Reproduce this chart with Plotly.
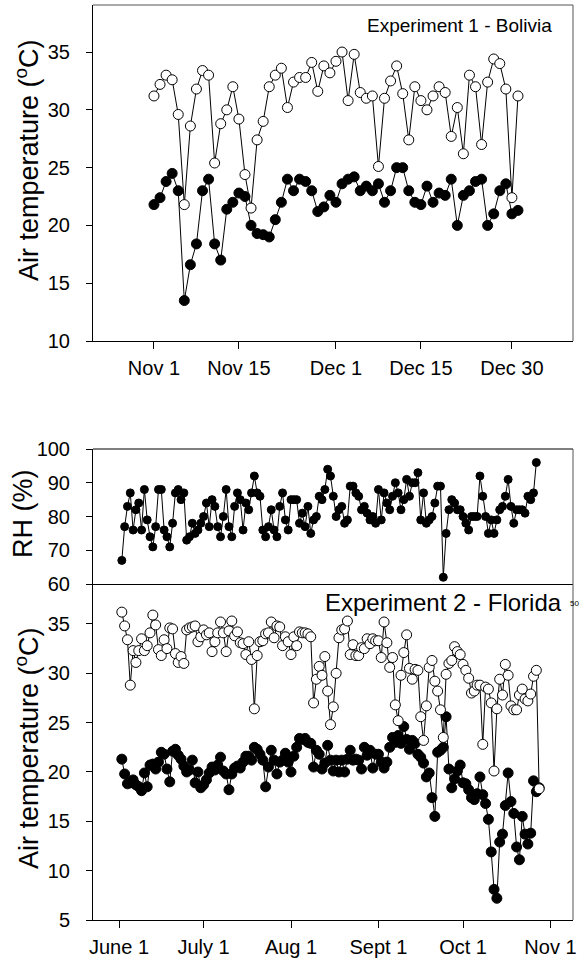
import plotly.graph_objects as go
import pandas as pd

# ---------------- data: Experiment 1 - Bolivia (daily, from Nov 1) ----------------
bol_start = "2008-11-01"
bol_tmax = [31.2, 32.2, 33.0, 32.6, 29.6, 21.8, 28.6, 31.8, 33.4, 33.0,
            25.4, 28.8, 30.0, 32.0, 29.2, 24.4, 21.5, 27.4, 29.0, 32.0,
            33.0, 33.6, 30.2, 32.4, 32.8, 32.8, 34.1, 31.6, 33.8, 33.2,
            34.2, 35.0, 30.8, 34.8, 31.5, 31.0, 31.2, 25.1, 31.0, 32.5,
            33.8, 31.4, 27.4, 32.0, 30.8, 30.0, 31.2, 32.0, 31.5, 27.7,
            30.2, 26.2, 33.0, 32.0, 27.0, 32.4, 34.4, 34.0, 31.8, 22.4,
            31.2]
bol_tmin = [21.8, 22.4, 23.8, 24.5, 23.0, 13.5, 16.6, 18.4, 23.0, 24.0,
            18.4, 17.0, 21.4, 22.0, 22.8, 22.5, 20.0, 19.3, 19.2, 19.0,
            20.5, 22.0, 24.0, 23.0, 24.0, 23.8, 23.0, 21.2, 21.6, 22.6,
            22.0, 23.6, 24.0, 24.2, 23.0, 23.4, 23.0, 23.6, 22.0, 23.0,
            25.0, 25.0, 23.0, 22.0, 21.8, 23.4, 22.0, 22.8, 22.6, 24.0,
            20.0, 22.6, 23.0, 23.8, 24.0, 20.0, 21.0, 23.0, 23.6, 21.0,
            21.3]
bol_tickvals = ["2008-11-01", "2008-11-15", "2008-12-01", "2008-12-15", "2008-12-30"]
bol_ticktext = ["Nov 1", "Nov 15", "Dec 1", "Dec 15", "Dec 30"]

# ---------------- data: Experiment 2 - Florida (daily, from June 2) ----------------
fl_start = "2009-06-02"
fl_rh = [67, 77, 83, 87, 76, 82, 84, 76, 88, 79,
         74, 71, 77, 88, 88, 76, 74, 71, 78, 87,
         88, 85, 87, 73, 74, 78, 75, 76, 78, 80,
         84, 77, 85, 83, 77, 74, 80, 88, 77, 74,
         83, 87, 85, 76, 84, 82, 87, 92, 87, 86,
         76, 74, 77, 82, 76, 74, 83, 87, 79, 76,
         85, 85, 85, 78, 81, 77, 83, 75, 79, 80,
         86, 85, 88, 94, 92, 86, 80, 82, 83, 78,
         79, 89, 89, 87, 86, 82, 83, 81, 79, 80,
         78, 88, 79, 87, 84, 82, 86, 90, 87, 82,
         85, 91, 86, 90, 90, 93, 79, 87, 78, 79,
         80, 84, 89, 89, 62, 75, 82, 85, 84, 82,
         82, 80, 78, 76, 80, 80, 80, 92, 86, 80,
         75, 79, 75, 79, 82, 83, 86, 91, 83, 78,
         82, 82, 82, 81, 86, 85, 87, 96]
fl_tmax = [36.2, 34.8, 33.4, 28.8, 32.3, 31.1, 32.3, 33.5, 32.3, 32.8,
           34.1, 35.9, 34.9, 32.4, 31.8, 33.4, 32.5, 34.6, 34.5, 32.0,
           31.1, 31.7, 31.0, 34.4, 34.6, 34.7, 34.8, 33.2, 33.7, 34.4,
           33.9, 34.1, 32.2, 33.2, 34.1, 35.2, 34.1, 32.2, 34.3, 35.3,
           33.8, 34.2, 33.1, 33.0, 31.9, 33.2, 31.4, 26.4, 31.8, 33.2,
           33.3, 34.0, 34.1, 35.2, 33.6, 34.8, 34.7, 32.8, 33.7, 33.2,
           31.9, 33.7, 32.8, 34.2,
           34.1, 34.1, 34.0, 33.7, 27.0, 29.4, 30.7, 29.8, 31.7, 28.2,
           24.8, 26.6, 30.0, 33.6, 34.4, 34.5, 35.3, 31.9, 32.9, 31.8,
           31.8, 32.6, 32.5, 33.5, 33.0, 33.5, 33.3, 33.3, 31.6, 35.2,
           33.1, 30.6, 31.6, 26.8, 25.2, 29.8, 32.1, 33.9, 30.5, 29.4,
           30.4, 30.3, 25.6, 23.2, 26.7, 30.6, 31.3, 29.2, 28.2, 26.3,
           23.5, 29.9, 31.0, 31.3, 32.7, 32.2, 31.9, 30.9, 30.3, 29.5,
           28.0, 28.2, 28.8, 28.8, 22.8, 28.6, 28.4, 27.0, 20.1, 26.4,
           29.4, 27.8, 30.9, 29.8, 26.7, 26.3, 26.3, 27.8, 28.4, 27.4,
           27.2, 27.9, 29.7, 30.3, 18.3]
fl_tmin = [21.3, 19.8, 18.8, 18.9, 19.2, 18.7, 18.5, 18.1, 19.9, 18.5,
           20.7, 20.8, 20.3, 21.0, 22.0, 21.8, 20.3, 19.0, 22.1, 22.3,
           21.7, 21.3, 20.6, 20.0, 20.2, 21.2, 18.9, 20.0, 18.4, 18.7,
           19.2, 19.9, 20.5, 20.2, 20.7, 21.5, 20.1, 19.8, 18.2, 19.8,
           20.4, 20.6, 20.4, 21.0, 21.6, 21.6, 21.2, 22.5, 22.3, 21.8,
           21.2, 18.5, 20.5, 22.2, 21.2, 19.8, 21.0, 21.2, 21.9, 21.0,
           20.0, 21.6, 22.5, 23.4,
           23.3, 23.4, 23.0, 22.9, 20.5, 22.2, 21.8, 20.3, 20.9, 22.7,
           21.2, 20.1, 21.2, 20.0, 21.2, 20.0, 21.3, 22.2, 21.2, 21.3,
           21.2, 20.3, 22.5, 21.7, 22.2, 20.4, 21.8, 21.8, 21.0, 20.4,
           21.0, 22.5, 23.5, 23.0, 23.7, 22.9, 24.6, 23.3, 22.3, 23.2,
           22.9, 21.8, 21.5, 20.9, 19.5, 19.9, 17.4, 15.5,
           22.0, 22.2, 22.5, 25.6, 20.3, 18.4, 19.3, 20.1, 20.7, 18.9,
           18.8, 18.2, 17.4, 17.2, 17.8, 19.5, 17.7, 16.8,
           15.2, 11.9, 8.1, 7.2, 12.9, 13.7, 16.6, 19.9, 17.0, 15.8,
           12.4, 11.1, 15.5, 13.7, 12.7, 13.8, 19.1, 18.0, 18.4]
fl_tickvals = ["2009-06-01", "2009-07-01", "2009-08-01", "2009-09-01", "2009-10-01", "2009-11-01"]
fl_ticktext = ["June 1", "July 1", "Aug 1", "Sept 1", "Oct 1", "Nov 1"]

# ---------------- build ----------------
W, H = 582, 961
FONT = "Liberation Sans, Arial, sans-serif"

bol_dates = pd.date_range(bol_start, periods=len(bol_tmax), freq="D")
fl_dates_t = pd.date_range(fl_start, periods=len(fl_tmax), freq="D")
fl_dates_n = pd.date_range(fl_start, periods=len(fl_tmin), freq="D")
fl_dates_rh = pd.date_range(fl_start, periods=len(fl_rh), freq="D")


def filled(x, y, xa, ya, size=10):
    return go.Scatter(x=x, y=y, xaxis=xa, yaxis=ya, mode="lines+markers",
                      line=dict(color="black", width=1),
                      marker=dict(symbol="circle", size=size, color="black",
                                  line=dict(color="black", width=1)),
                      hoverinfo="x+y")


def opened(x, y, xa, ya, size=10):
    return go.Scatter(x=x, y=y, xaxis=xa, yaxis=ya, mode="lines+markers",
                      line=dict(color="black", width=1),
                      marker=dict(symbol="circle", size=size, color="white",
                                  line=dict(color="black", width=1)),
                      hoverinfo="x+y")


fig = go.Figure()
fig.add_trace(filled(bol_dates, bol_tmin, "x", "y"))
fig.add_trace(opened(bol_dates, bol_tmax, "x", "y"))
fig.add_trace(filled(fl_dates_rh, fl_rh, "x2", "y2", size=8))
fig.add_trace(filled(fl_dates_n, fl_tmin, "x3", "y3"))
fig.add_trace(opened(fl_dates_t, fl_tmax, "x3", "y3"))


def px_x(p):
    return p / W


def px_y(p):
    return 1 - p / H


xdom = [px_x(93), px_x(573)]

bol_range = [pd.Timestamp("2008-11-01") - pd.Timedelta(days=10.05),
             pd.Timestamp("2008-12-31") + pd.Timedelta(days=9.07)]
fl_range = [pd.Timestamp("2009-06-01") - pd.Timedelta(days=9.22),
            pd.Timestamp("2009-06-01") + pd.Timedelta(days=161.0)]

xtickfont = dict(family=FONT, size=20, color="black")
ytickfont = dict(family=FONT, size=20, color="black")
common_x = dict(type="date", showgrid=False, zeroline=False, showline=True,
                linecolor="black", linewidth=1, ticks="outside", ticklen=7,
                tickcolor="black", tickfont=xtickfont, ticklabelstandoff=2,
                automargin=False, fixedrange=True)
common_y = dict(showgrid=False, zeroline=False, showline=True, linecolor="black",
                linewidth=1, ticks="outside", ticklen=6, tickcolor="black",
                tickfont=ytickfont, ticklabelstandoff=12, automargin=False,
                fixedrange=True)

fig.update_layout(
    template="none",
    width=W, height=H, margin=dict(l=0, r=0, t=0, b=0, pad=0, autoexpand=False),
    paper_bgcolor="white", plot_bgcolor="white", showlegend=False,
    font=dict(family=FONT, color="black"),
    xaxis=dict(common_x, domain=xdom, anchor="y",
               range=[d.strftime("%Y-%m-%d %H:%M") for d in bol_range],
               tickvals=bol_tickvals, ticktext=bol_ticktext),
    yaxis=dict(common_y, domain=[px_y(341), px_y(5)], anchor="x",
               range=[10, 39.07], tickvals=[10, 15, 20, 25, 30, 35]),
    xaxis2=dict(common_x, domain=xdom, anchor="y2",
                range=[d.strftime("%Y-%m-%d %H:%M") for d in fl_range],
                ticks="", showticklabels=False, tickvals=fl_tickvals),
    yaxis2=dict(common_y, domain=[px_y(584), px_y(449)], anchor="x2",
                range=[60, 100], tickvals=[60, 70, 80, 90, 100]),
    xaxis3=dict(common_x, domain=xdom, anchor="y3",
                range=[d.strftime("%Y-%m-%d %H:%M") for d in fl_range],
                tickvals=fl_tickvals, ticktext=fl_ticktext),
    yaxis3=dict(common_y, domain=[px_y(920), px_y(584)], anchor="x3",
                range=[5, 39.05], tickvals=[5, 10, 15, 20, 25, 30, 35]),
)

frame_gray = "#555555"
shapes = [
    dict(type="line", xref="x domain", yref="y domain", x0=0, x1=1, y0=1, y1=1,
         line=dict(color=frame_gray, width=1)),
    dict(type="line", xref="x domain", yref="y domain", x0=1, x1=1, y0=0, y1=1,
         line=dict(color=frame_gray, width=1)),
    dict(type="line", xref="x2 domain", yref="y2 domain", x0=0, x1=1, y0=1, y1=1,
         line=dict(color="black", width=1)),
    dict(type="line", xref="x2 domain", yref="y2 domain", x0=1, x1=1, y0=0, y1=1,
         line=dict(color=frame_gray, width=1)),
    dict(type="line", xref="x3 domain", yref="y3 domain", x0=1, x1=1, y0=0, y1=1,
         line=dict(color=frame_gray, width=1)),
]
fig.update_layout(shapes=shapes)

ytitle = "Air temperature (<sup>o</sup>C)"
annotations = [
    dict(text=ytitle, x=px_x(27), y=px_y(160), xref="paper", yref="paper",
         textangle=-90, showarrow=False, xanchor="center", yanchor="middle",
         font=dict(family=FONT, size=27, color="black")),
    dict(text=ytitle, x=px_x(27), y=px_y(748), xref="paper", yref="paper",
         textangle=-90, showarrow=False, xanchor="center", yanchor="middle",
         font=dict(family=FONT, size=27, color="black")),
    dict(text="RH (%)", x=px_x(23), y=px_y(514), xref="paper", yref="paper",
         textangle=-90, showarrow=False, xanchor="center", yanchor="middle",
         font=dict(family=FONT, size=27, color="black")),
    dict(text="Experiment 1 - Bolivia", x=px_x(554), y=px_y(25), xref="paper",
         yref="paper", showarrow=False, xanchor="right", yanchor="middle",
         font=dict(family=FONT, size=19, color="black")),
    dict(text="Experiment 2 - Florida", x=px_x(564), y=px_y(602), xref="paper",
         yref="paper", showarrow=False, xanchor="right", yanchor="middle",
         font=dict(family=FONT, size=24, color="black")),
    dict(text="50", x=px_x(581), y=px_y(603), xref="paper", yref="paper",
         showarrow=False, xanchor="right", yanchor="middle",
         font=dict(family=FONT, size=8, color="black")),
]
fig.update_layout(annotations=annotations)

fig.write_html(
    "out.html",
    config={"displayModeBar": False},
    post_script="document.body.style.margin='0px';document.body.style.padding='0px';",
)
